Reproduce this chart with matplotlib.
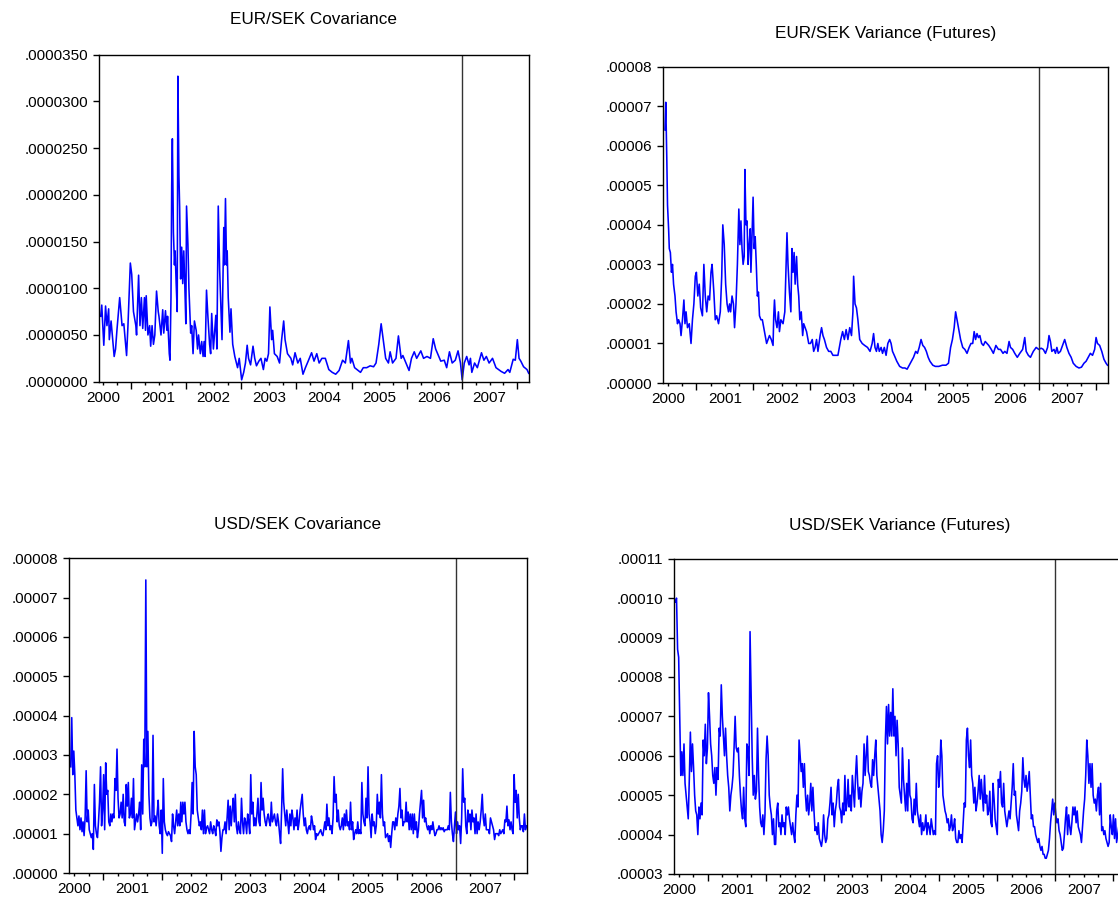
import matplotlib
matplotlib.use("Agg")
import matplotlib.pyplot as plt
import numpy as np
from matplotlib.ticker import FixedLocator, FixedFormatter, FuncFormatter

plt.rcParams['font.family'] = ['Liberation Sans', 'DejaVu Sans']

x_start, x_end = 2000.42, 2008.21
split_year = 2007.0
years = list(range(2001, 2009))

# EUR/SEK covariance: (fractional year, value in 1e-6)
eur_cov = [
    (2000.451, 7.0), (2000.470, 8.2), (2000.507, 3.9), (2000.539, 8.1), (2000.564, 6.0), (2000.595, 7.8), (2000.607, 4.5), (2000.639, 6.5), (2000.695, 2.7), (2000.720, 3.5),
    (2000.745, 5.5), (2000.795, 9.0), (2000.838, 6.0), (2000.870, 6.2), (2000.920, 2.8), (2000.945, 6.0), (2000.988, 12.7), (2001.013, 11.5), (2001.045, 7.5), (2001.088, 6.0),
    (2001.101, 5.0), (2001.138, 11.4), (2001.163, 6.0), (2001.188, 9.0), (2001.213, 5.7), (2001.244, 9.0), (2001.263, 5.5), (2001.276, 9.2), (2001.307, 5.0), (2001.338, 6.0),
    (2001.357, 3.8), (2001.382, 6.0), (2001.407, 4.0), (2001.432, 5.0), (2001.463, 9.7), (2001.494, 7.5), (2001.507, 7.0), (2001.544, 5.0), (2001.575, 7.7), (2001.594, 5.2),
    (2001.625, 7.6), (2001.650, 5.5), (2001.663, 7.0), (2001.694, 3.0), (2001.707, 2.3), (2001.725, 9.0), (2001.738, 21.0), (2001.750, 26.0), (2001.769, 16.0), (2001.788, 12.5),
    (2001.800, 14.0), (2001.819, 10.5), (2001.838, 7.5), (2001.850, 32.7), (2001.869, 22.0), (2001.882, 18.7), (2001.900, 11.0), (2001.919, 14.4), (2001.938, 10.5), (2001.957, 14.0),
    (2001.975, 10.5), (2001.994, 6.2), (2002.007, 18.8), (2002.032, 14.7), (2002.050, 10.0), (2002.082, 5.2), (2002.100, 6.0), (2002.125, 3.0), (2002.150, 6.5), (2002.182, 5.5),
    (2002.207, 3.5), (2002.225, 5.0), (2002.257, 3.0), (2002.282, 4.3), (2002.307, 2.7), (2002.325, 4.3), (2002.344, 2.7), (2002.369, 9.8), (2002.394, 7.0), (2002.425, 4.0),
    (2002.444, 3.0), (2002.463, 7.3), (2002.494, 3.5), (2002.538, 7.1), (2002.557, 3.5), (2002.582, 18.8), (2002.607, 12.0), (2002.650, 4.5), (2002.682, 16.5), (2002.694, 12.5),
    (2002.713, 19.6), (2002.732, 12.5), (2002.744, 14.0), (2002.763, 9.0), (2002.794, 5.3), (2002.813, 7.8), (2002.844, 4.0), (2002.882, 2.7), (2002.932, 1.5), (2002.962, 2.5),
    (2003.006, 0.2), (2003.043, 1.0), (2003.075, 2.0), (2003.106, 3.9), (2003.131, 2.5), (2003.168, 1.8), (2003.212, 3.8), (2003.243, 2.5), (2003.275, 1.7), (2003.318, 2.2),
    (2003.356, 2.5), (2003.400, 1.3), (2003.431, 2.5), (2003.462, 2.2), (2003.493, 3.0), (2003.518, 8.0), (2003.550, 4.5), (2003.568, 5.5), (2003.600, 3.0), (2003.650, 2.7),
    (2003.693, 2.0), (2003.731, 4.5), (2003.768, 6.5), (2003.793, 4.5), (2003.837, 3.0), (2003.899, 2.5), (2003.931, 1.8), (2003.974, 3.1), (2004.024, 2.0), (2004.068, 2.5),
    (2004.118, 0.8), (2004.162, 1.5), (2004.212, 2.2), (2004.274, 3.1), (2004.318, 2.2), (2004.368, 3.0), (2004.411, 2.0), (2004.461, 2.5), (2004.523, 2.5), (2004.586, 1.3),
    (2004.648, 1.0), (2004.711, 0.8), (2004.773, 1.2), (2004.836, 2.3), (2004.886, 2.0), (2004.942, 4.4), (2004.979, 2.0), (2005.004, 2.5), (2005.054, 1.5), (2005.117, 1.2),
    (2005.161, 1.0), (2005.211, 1.5), (2005.273, 1.5), (2005.336, 1.7), (2005.398, 1.6), (2005.442, 2.0), (2005.492, 4.0), (2005.535, 6.2), (2005.573, 4.5), (2005.617, 2.5),
    (2005.667, 2.0), (2005.698, 3.2), (2005.742, 2.0), (2005.804, 2.5), (2005.848, 4.9), (2005.898, 2.5), (2005.929, 2.8), (2006.041, 1.2), (2006.085, 2.5), (2006.135, 3.2),
    (2006.179, 2.5), (2006.254, 3.3), (2006.304, 2.5), (2006.366, 2.7), (2006.429, 2.5), (2006.479, 4.6), (2006.523, 3.5), (2006.616, 2.2), (2006.679, 2.3), (2006.723, 1.5),
    (2006.773, 3.2), (2006.823, 2.0), (2006.879, 2.3), (2006.929, 3.3), (2006.973, 2.0), (2007.004, 0.2), (2007.042, 2.0), (2007.086, 2.7), (2007.129, 1.8), (2007.154, 2.5),
    (2007.179, 1.0), (2007.229, 2.0), (2007.279, 1.5), (2007.354, 3.1), (2007.398, 2.3), (2007.442, 2.7), (2007.492, 2.0), (2007.554, 2.5), (2007.617, 1.5), (2007.710, 1.1),
    (2007.773, 0.9), (2007.835, 1.3), (2007.867, 1.0), (2007.929, 2.4), (2007.967, 2.3), (2008.004, 4.5), (2008.035, 2.5), (2008.067, 2.2), (2008.117, 1.6), (2008.179, 1.3),
    (2008.210, 0.9),
]

# EUR/SEK variance (futures): (fractional year, value in 1e-5)
eur_var = [
    (2000.450, 6.4), (2000.463, 7.1), (2000.481, 5.7), (2000.494, 4.5), (2000.513, 3.9), (2000.525, 3.4), (2000.544, 3.3), (2000.563, 2.8), (2000.581, 3.0), (2000.600, 2.5),
    (2000.625, 2.2), (2000.644, 1.8), (2000.669, 1.5), (2000.688, 1.6), (2000.713, 1.5), (2000.731, 1.2), (2000.756, 1.6), (2000.781, 2.1), (2000.800, 1.5), (2000.819, 1.8),
    (2000.844, 1.4), (2000.875, 1.5), (2000.906, 1.0), (2000.931, 1.6), (2000.956, 2.0), (2000.981, 2.7), (2001.000, 2.8), (2001.025, 2.2), (2001.050, 2.5), (2001.075, 1.9),
    (2001.106, 1.7), (2001.131, 3.0), (2001.156, 2.2), (2001.181, 1.8), (2001.206, 2.2), (2001.231, 2.1), (2001.256, 2.8), (2001.275, 3.0), (2001.306, 2.3), (2001.331, 1.6),
    (2001.356, 1.7), (2001.388, 1.5), (2001.419, 1.8), (2001.444, 2.7), (2001.463, 4.0), (2001.488, 3.5), (2001.513, 2.5), (2001.538, 2.0), (2001.563, 1.8), (2001.581, 2.0),
    (2001.600, 1.8), (2001.625, 2.2), (2001.650, 2.0), (2001.669, 1.4), (2001.694, 2.0), (2001.719, 3.0), (2001.744, 4.4), (2001.763, 3.5), (2001.781, 4.1), (2001.800, 3.4),
    (2001.819, 3.0), (2001.838, 3.2), (2001.850, 5.4), (2001.869, 4.0), (2001.888, 4.1), (2001.906, 3.0), (2001.925, 3.5), (2001.944, 3.9), (2001.956, 2.8), (2001.975, 3.7),
    (2001.994, 4.7), (2002.013, 3.4), (2002.031, 3.7), (2002.050, 3.0), (2002.069, 2.2), (2002.088, 2.3), (2002.106, 1.7), (2002.131, 1.6), (2002.156, 1.6), (2002.181, 1.4),
    (2002.206, 1.2), (2002.231, 1.0), (2002.256, 1.1), (2002.281, 1.2), (2002.313, 1.1), (2002.344, 0.95), (2002.356, 1.7), (2002.369, 2.1), (2002.388, 1.6), (2002.413, 1.4),
    (2002.438, 1.8), (2002.456, 1.3), (2002.481, 1.6), (2002.519, 1.5), (2002.550, 1.8), (2002.569, 2.8), (2002.588, 3.8), (2002.606, 3.0), (2002.631, 2.3), (2002.656, 1.8),
    (2002.675, 3.4), (2002.694, 2.8), (2002.713, 3.3), (2002.731, 2.5), (2002.756, 3.2), (2002.775, 2.5), (2002.794, 2.2), (2002.813, 1.6), (2002.838, 1.8), (2002.863, 1.2),
    (2002.881, 1.5), (2002.906, 1.4), (2002.931, 1.3), (2002.950, 1.15), (2002.969, 1.0), (2003.000, 1.0), (2003.031, 1.1), (2003.056, 0.8), (2003.081, 0.9), (2003.106, 1.1),
    (2003.131, 0.8), (2003.169, 1.2), (2003.194, 1.4), (2003.219, 1.2), (2003.244, 1.1), (2003.281, 0.9), (2003.319, 0.8), (2003.356, 0.8), (2003.394, 0.7), (2003.438, 0.7),
    (2003.481, 0.7), (2003.506, 0.9), (2003.531, 1.1), (2003.563, 1.3), (2003.594, 1.1), (2003.625, 1.35), (2003.656, 1.1), (2003.688, 1.4), (2003.719, 1.2), (2003.744, 1.8),
    (2003.756, 2.7), (2003.781, 2.0), (2003.806, 1.9), (2003.831, 1.6), (2003.863, 1.1), (2003.906, 1.0), (2003.950, 0.95), (2004.000, 0.9), (2004.044, 0.8), (2004.081, 1.0),
    (2004.106, 1.25), (2004.131, 0.9), (2004.156, 0.8), (2004.181, 1.0), (2004.206, 0.8), (2004.238, 0.9), (2004.263, 0.75), (2004.294, 0.9), (2004.325, 0.7), (2004.356, 1.0),
    (2004.388, 1.1), (2004.413, 1.0), (2004.438, 0.8), (2004.469, 0.7), (2004.513, 0.55), (2004.563, 0.42), (2004.613, 0.38), (2004.656, 0.38), (2004.694, 0.35), (2004.731, 0.45),
    (2004.769, 0.55), (2004.806, 0.65), (2004.844, 0.8), (2004.875, 0.75), (2004.906, 0.9), (2004.938, 1.1), (2004.969, 0.95), (2005.000, 0.9), (2005.031, 0.8), (2005.063, 0.65),
    (2005.094, 0.55), (2005.144, 0.45), (2005.188, 0.42), (2005.250, 0.42), (2005.313, 0.45), (2005.375, 0.45), (2005.419, 0.5), (2005.456, 0.9), (2005.488, 1.1), (2005.519, 1.4),
    (2005.544, 1.8), (2005.569, 1.6), (2005.594, 1.4), (2005.631, 1.1), (2005.669, 0.9), (2005.706, 0.85), (2005.744, 0.75), (2005.781, 0.9), (2005.813, 1.0), (2005.844, 1.0),
    (2005.869, 1.3), (2005.894, 1.1), (2005.919, 1.25), (2005.944, 1.15), (2005.969, 1.2), (2006.000, 1.0), (2006.031, 0.95), (2006.063, 1.05), (2006.094, 1.0), (2006.125, 0.95),
    (2006.169, 0.85), (2006.206, 0.75), (2006.250, 0.95), (2006.294, 0.85), (2006.331, 0.85), (2006.375, 0.75), (2006.406, 0.8), (2006.444, 0.75), (2006.481, 1.05), (2006.506, 0.9),
    (2006.544, 0.85), (2006.581, 0.75), (2006.625, 0.65), (2006.669, 0.75), (2006.719, 0.85), (2006.756, 1.15), (2006.781, 0.8), (2006.819, 0.7), (2006.856, 0.65), (2006.906, 0.8),
    (2006.956, 0.9), (2007.000, 0.85), (2007.044, 0.88), (2007.081, 0.85), (2007.119, 0.75), (2007.156, 0.9), (2007.181, 1.2), (2007.206, 1.05), (2007.231, 0.8), (2007.269, 0.85),
    (2007.294, 0.75), (2007.319, 0.9), (2007.344, 0.75), (2007.381, 0.8), (2007.419, 0.95), (2007.456, 1.1), (2007.494, 0.9), (2007.531, 0.75), (2007.569, 0.65), (2007.606, 0.5),
    (2007.656, 0.42), (2007.706, 0.38), (2007.750, 0.4), (2007.794, 0.5), (2007.831, 0.55), (2007.869, 0.65), (2007.906, 0.75), (2007.944, 0.7), (2007.981, 0.85), (2008.006, 1.15),
    (2008.031, 1.0), (2008.069, 0.95), (2008.106, 0.8), (2008.144, 0.6), (2008.181, 0.5), (2008.206, 0.45),
]

# USD/SEK covariance, roughly weekly readings (value in 1e-5), 2000.44 .. 2008.21
usd_cov_span = (2000.444, 2008.206)
usd_cov = [
    2.7, 3.95, 2.5, 3.1, 2.5, 1.6, 1.4, 1.2, 1.45, 1.1,
    1.4, 1.05, 1.3, 0.95, 1.4, 2.6, 1.3, 1.6, 1.1, 1.0,
    0.9, 1.0, 0.6, 2.25, 1.2, 1.0, 0.9, 1.3, 1.8, 2.7,
    1.2, 1.6, 2.5, 1.1, 2.8, 2.0, 2.1, 1.3, 1.2, 1.5,
    1.3, 1.5, 1.4, 2.4, 2.1, 3.15, 1.9, 1.4, 1.5, 1.8,
    1.4, 2.0, 1.3, 1.2, 2.25, 1.7, 2.3, 1.4, 1.5, 1.9,
    1.4, 2.4, 1.1, 1.3, 1.5, 1.3, 1.5, 1.8, 1.1, 2.75,
    1.5, 3.4, 2.7, 7.45, 2.7, 3.6, 2.0, 1.4, 1.2, 1.3,
    3.5, 1.3, 1.45, 1.2, 1.5, 1.85, 1.2, 1.0, 1.6, 0.5,
    2.4, 1.3, 1.1, 1.0, 0.95, 1.05, 1.0, 0.95, 0.8, 1.5,
    1.2, 1.0, 1.3, 1.6, 1.2, 1.5, 1.2, 1.8, 1.3, 1.8,
    1.5, 1.8, 1.3, 1.1, 1.0, 1.1, 1.0, 1.5, 2.3, 1.5,
    3.6, 2.7, 2.5, 1.6, 1.4, 1.2, 1.3, 1.1, 1.6, 1.0,
    1.6, 1.0, 1.15, 1.2, 1.1, 1.0, 1.3, 1.1, 1.0, 1.2,
    1.1, 0.95, 1.35, 1.2, 1.3, 1.05, 0.55, 0.9, 1.1, 1.1,
    1.3, 1.0, 1.4, 1.85, 1.1, 1.7, 1.2, 1.6, 1.9, 1.3,
    2.0, 1.2, 1.0, 1.3, 1.1, 1.0, 1.9, 1.3, 1.0, 1.4,
    1.3, 1.0, 1.5, 1.3, 1.0, 2.5, 1.5, 1.8, 1.2, 1.4,
    1.2, 1.5, 1.9, 1.3, 1.2, 2.3, 1.6, 1.9, 1.5, 1.3,
    1.2, 1.4, 1.5, 1.3, 1.2, 1.8, 1.3, 1.4, 1.5, 1.3,
    1.2, 1.5, 1.3, 1.0, 0.75, 1.6, 2.65, 1.8, 1.5, 1.2,
    1.6, 1.3, 1.0, 1.5, 1.2, 1.6, 1.4, 1.1, 1.4, 1.2,
    1.6, 1.1, 1.3, 1.6, 1.8, 2.0, 1.5, 1.2, 1.4, 1.1,
    1.0, 1.15, 1.2, 1.1, 1.45, 1.3, 1.1, 1.2, 0.85, 1.0,
    0.95, 1.0, 1.05, 1.1, 1.0, 0.95, 1.1, 1.3, 1.1, 1.75,
    1.2, 1.4, 1.1, 1.2, 1.0, 1.4, 2.45, 1.8, 2.0, 1.3,
    1.6, 1.2, 1.1, 1.2, 1.4, 1.1, 1.5, 1.2, 1.6, 1.2,
    1.3, 1.1, 1.8, 1.1, 1.3, 0.85, 1.0, 1.1, 1.0, 1.3,
    1.0, 1.1, 1.0, 2.3, 1.5, 1.3, 1.2, 1.9, 1.4, 2.7,
    1.5, 1.3, 0.9, 1.5, 1.2, 1.3, 1.0, 1.2, 2.0, 1.5,
    1.8, 1.4, 2.5, 1.5, 1.2, 1.3, 0.9, 0.95, 1.0, 0.8,
    0.95, 0.65, 1.0, 1.3, 1.3, 1.1, 1.4, 1.2, 1.5, 1.7,
    2.15, 1.4, 1.6, 1.2, 1.3, 1.3, 1.8, 1.3, 1.55, 1.1,
    1.5, 1.1, 1.5, 1.0, 1.5, 1.1, 1.3, 0.9, 1.1, 1.5,
    1.8, 2.1, 1.4, 1.85, 1.3, 1.4, 1.2, 1.1, 1.2, 1.0,
    1.2, 1.1, 1.3, 1.1, 0.95, 1.0, 1.1, 1.1, 1.2, 1.1,
    1.15, 1.1, 1.15, 1.05, 1.1, 1.1, 1.1, 1.2, 1.1, 2.05,
    1.3, 1.0, 0.8, 1.2, 1.55, 1.0, 1.3, 1.1, 1.2, 0.75,
    1.4, 2.65, 1.8, 1.9, 1.2, 1.0, 1.6, 1.3, 1.5, 1.1,
    1.6, 1.3, 1.4, 1.0, 1.5, 1.0, 1.3, 1.1, 1.3, 1.6,
    2.0, 1.4, 1.2, 1.5, 1.1, 1.1, 1.1, 1.0, 1.4, 1.3,
    1.2, 1.1, 0.85, 1.0, 1.0, 1.0, 0.95, 1.1, 1.0, 1.05,
    1.1, 1.0, 1.35, 1.3, 1.7, 1.2, 1.35, 1.1, 1.3, 1.1,
    1.0, 2.5, 1.8, 2.1, 1.4, 2.0, 1.4, 1.1, 1.2, 1.2,
    1.05, 1.5, 1.1, 1.2,
]

# USD/SEK variance (futures), roughly weekly readings (value in 1e-5), 2000.44 .. 2008.19
usd_var_span = (2000.440, 2008.194)
usd_var = [
    9.9, 10.0, 8.7, 8.5, 7.0, 5.5, 6.1, 5.5, 6.3, 5.3,
    5.0, 4.7, 4.4, 5.4, 6.6, 5.6, 6.3, 5.7, 5.0, 4.6,
    4.5, 4.0, 4.7, 4.4, 4.8, 4.5, 6.4, 6.0, 6.8, 5.8,
    6.2, 7.6, 7.0, 6.3, 6.0, 5.5, 5.3, 5.7, 5.0, 5.7,
    5.4, 6.7, 6.5, 7.8, 7.0, 6.5, 6.0, 6.7, 6.0, 5.5,
    5.2, 4.6, 5.0, 5.2, 5.5, 6.2, 7.0, 6.2, 6.1, 6.2,
    5.5, 5.0, 4.6, 4.4, 5.2, 4.4, 4.2, 6.3, 6.2, 5.5,
    9.15, 7.5, 6.0, 5.0, 5.5, 4.9, 5.1, 6.7, 5.5, 4.7,
    4.3, 4.2, 4.5, 4.0, 4.5, 5.9, 6.5, 6.0, 5.0, 4.7,
    4.5, 4.0, 4.4, 3.75, 3.75, 4.6, 4.8, 4.2, 4.3, 4.0,
    4.5, 4.2, 4.3, 4.0, 4.7, 4.5, 4.7, 4.4, 4.2, 4.0,
    4.3, 4.0, 3.8, 4.5, 5.0, 4.7, 6.4, 6.0, 5.6, 5.8,
    5.2, 5.8, 5.0, 4.6, 5.0, 4.5, 4.8, 5.3, 4.6, 5.2,
    4.6, 4.1, 4.2, 4.0, 4.3, 3.9, 3.8, 3.7, 3.9, 4.5,
    4.0, 3.8, 3.9, 4.4, 4.5, 4.8, 5.2, 4.5, 4.8, 4.2,
    4.6, 4.8, 5.2, 5.4, 4.7, 4.6, 4.3, 4.8, 4.5, 5.5,
    4.6, 4.8, 5.4, 4.7, 5.0, 4.6, 5.5, 5.1, 4.7, 5.5,
    6.0, 5.3, 4.9, 5.2, 4.7, 5.1, 5.3, 6.3, 5.5, 6.0,
    6.5, 5.6, 5.5, 5.3, 5.2, 5.9, 5.5, 6.0, 6.4, 5.5,
    5.2, 4.9, 4.6, 4.0, 3.8, 4.1, 4.6, 6.4, 7.25, 6.3,
    7.3, 6.5, 7.1, 6.5, 7.7, 6.5, 7.0, 6.0, 6.9, 6.3,
    5.2, 5.0, 4.8, 6.2, 5.4, 5.0, 4.6, 5.3, 4.6, 5.9,
    5.0, 4.9, 4.4, 4.3, 4.9, 4.5, 5.3, 4.6, 4.4, 4.2,
    4.5, 4.0, 4.3, 4.1, 4.2, 4.5, 4.0, 4.3, 4.2, 4.0,
    4.4, 4.2, 4.0, 4.1, 4.0, 5.8, 6.0, 5.2, 5.5, 6.4,
    6.0, 5.0, 4.8, 4.6, 4.5, 4.3, 4.4, 4.1, 4.2, 4.5,
    4.1, 4.2, 4.4, 3.9, 3.8, 3.8, 4.1, 3.9, 4.0, 3.8,
    4.3, 4.8, 4.7, 6.4, 6.7, 6.0, 5.7, 6.4, 5.5, 5.3,
    4.8, 5.2, 4.6, 4.8, 5.1, 5.5, 4.9, 5.4, 5.0, 4.6,
    5.5, 4.8, 5.0, 4.5, 4.6, 5.1, 4.3, 4.2, 5.3, 4.9,
    4.4, 4.2, 4.0, 5.4, 5.2, 5.6, 4.8, 4.7, 5.3, 4.6,
    4.4, 4.2, 4.4, 4.6, 4.4, 4.8, 5.2, 5.8, 5.0, 5.1,
    4.5, 4.3, 4.1, 4.6, 4.8, 5.1, 5.95, 5.4, 5.2, 5.5,
    5.1, 5.3, 5.6, 5.0, 4.4, 4.5, 4.2, 4.2, 4.0, 3.9,
    3.8, 3.9, 3.7, 3.6, 3.7, 3.5, 3.5, 3.4, 3.4, 3.5,
    3.6, 3.9, 4.3, 4.6, 4.9, 4.5, 4.8, 4.5, 4.3, 4.4,
    4.1, 4.0, 3.8, 3.6, 3.65, 4.0, 4.4, 4.7, 4.0, 4.5,
    4.2, 4.0, 4.3, 4.7, 4.5, 4.7, 4.3, 4.6, 4.2, 4.1,
    4.0, 3.8, 4.2, 4.6, 4.9, 5.5, 6.4, 6.0, 5.3, 5.8,
    5.2, 5.8, 5.0, 4.8, 4.9, 4.6, 5.0, 5.2, 4.5, 5.3,
    4.1, 4.2, 4.0, 4.1, 3.9, 3.8, 3.7, 3.8, 4.5, 4.2,
    4.0, 4.5, 3.9, 4.4, 3.8, 4.0, 4.2, 4.5, 4.3, 4.6,
    4.4, 4.2,
]

titles = ["EUR/SEK Covariance", "EUR/SEK Variance (Futures)",
          "USD/SEK Covariance", "USD/SEK Variance (Futures)"]


def fmt(decimals):
    return FuncFormatter(lambda v, p: f"{v:.{decimals}f}".replace("0.", ".", 1))


def style(ax, yticks, decimals, title, title_gap_px):
    ax.set_xlim(x_start, x_end)
    ax.set_ylim(yticks[0], yticks[-1])
    ax.yaxis.set_major_locator(FixedLocator(yticks))
    ax.yaxis.set_major_formatter(fmt(decimals))

    # long ticks at year boundaries, short ticks at quarters, year labels mid-year
    ax.xaxis.set_major_locator(FixedLocator(years))
    ax.xaxis.set_major_formatter(FixedFormatter([""] * len(years)))
    quarters = [y + q for y in range(2000, 2009) for q in (0.25, 0.5, 0.75)
                if x_start <= y + q <= x_end]
    qlabels = [str(int(q)) if abs(q % 1 - 0.5) < 1e-9 else "" for q in quarters]
    ax.xaxis.set_minor_locator(FixedLocator(quarters))
    ax.xaxis.set_minor_formatter(FixedFormatter(qlabels))

    ax.tick_params(axis="x", which="major", direction="out", length=5, width=1)
    ax.tick_params(axis="x", which="minor", direction="out", length=2.5, width=1,
                   pad=4.2, labelsize=11)
    ax.tick_params(axis="y", direction="out", length=4.5, width=1, pad=3.5,
                   labelsize=11)
    for s in ax.spines.values():
        s.set_linewidth(1.0)
        s.set_color("black")

    ax.axvline(split_year, color="#333333", lw=1.0)

    h_px = ax.get_position().height * 899
    ax.text(0.5, 1 + title_gap_px / h_px, title, transform=ax.transAxes,
            ha="center", va="center", fontsize=12.3)


fig = plt.figure(figsize=(11.18, 8.99), dpi=100)
line_kw = dict(color="#0000FF", lw=1.15)

ax1 = fig.add_axes([0.08855, 0.57542, 0.38435, 0.36374])
t, v = np.array(eur_cov).T
ax1.plot(t, v * 1e-6, **line_kw)
style(ax1, np.linspace(0, 0.000035, 8), 7, titles[0], 35)

ax2 = fig.add_axes([0.59329, 0.57397, 0.39750, 0.35184])
t, v = np.array(eur_var).T
ax2.plot(t, v * 1e-5, **line_kw)
style(ax2, np.linspace(0, 0.00008, 9), 5, titles[1], 33.5)

ax3 = fig.add_axes([0.06199, 0.02892, 0.40913, 0.35006])
t = np.linspace(usd_cov_span[0], usd_cov_span[1], len(usd_cov))
ax3.plot(t, np.array(usd_cov) * 1e-5, **line_kw)
style(ax3, np.linspace(0, 0.00008, 9), 5, titles[2], 33.5)

ax4 = fig.add_axes([0.60313, 0.02781, 0.40313, 0.35072])
t = np.linspace(usd_var_span[0], usd_var_span[1], len(usd_var))
ax4.plot(t, np.array(usd_var) * 1e-5, **line_kw)
style(ax4, np.linspace(0.00003, 0.00011, 9), 5, titles[3], 33.5)

fig.savefig("out.png", dpi=100)
